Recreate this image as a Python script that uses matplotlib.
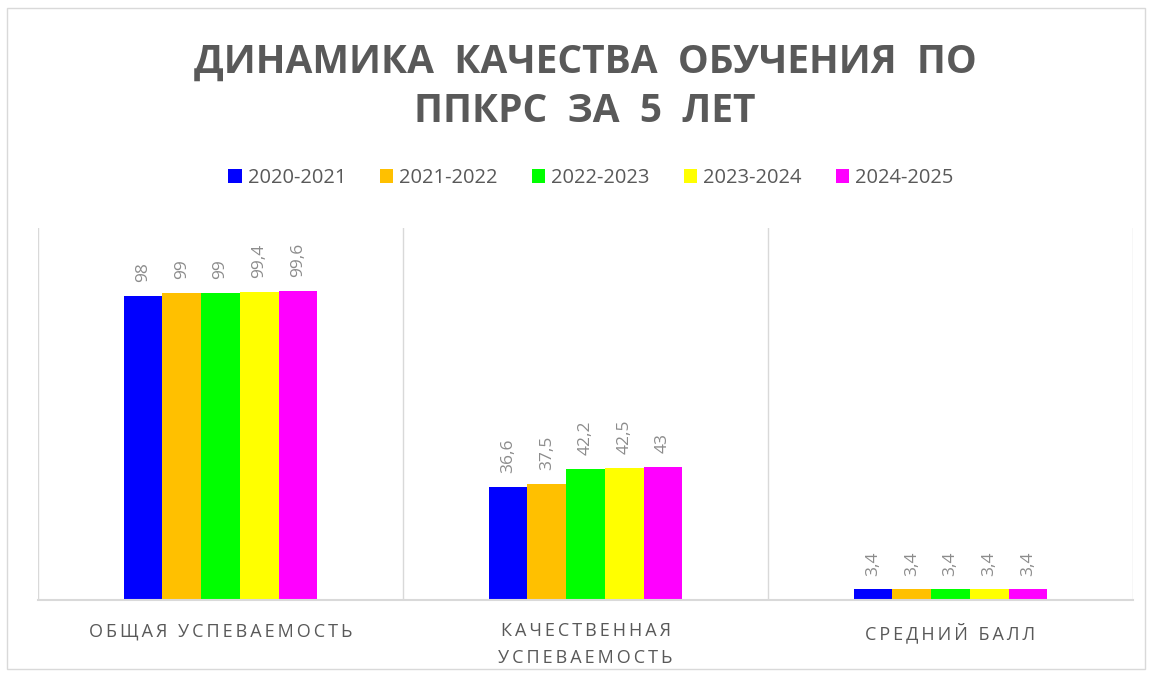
import matplotlib
matplotlib.use("Agg")
import matplotlib.pyplot as plt
import numpy as np
from matplotlib.patches import Rectangle

categories = ["ОБЩАЯ УСПЕВАЕМОСТЬ", "КАЧЕСТВЕННАЯ\nУСПЕВАЕМОСТЬ", "СРЕДНИЙ БАЛЛ"]
years = ["2020-2021", "2021-2022", "2022-2023", "2023-2024", "2024-2025"]
colors = ["#0000FF", "#FFC000", "#00FF00", "#FFFF00", "#FF00FF"]
values = [
    [98, 36.6, 3.4],
    [99, 37.5, 3.4],
    [99, 42.2, 3.4],
    [99.4, 42.5, 3.4],
    [99.6, 43, 3.4],
]

gray = "#595959"
plt.rcParams["font.family"] = ["Open Sans", "DejaVu Sans"]


def spaced(s, gap="\u2009"):
    # poor man's letter spacing
    return "\n".join(gap.join(line) for line in s.split("\n"))


fig = plt.figure(figsize=(11.52, 6.77), dpi=100)
fig.patches.append(Rectangle((0.006, 0.012), 0.988, 0.976, transform=fig.transFigure,
                             fill=False, edgecolor="#d9d9d9", linewidth=1))
ax = fig.add_axes([0.033, 0.1137, 0.9505, 0.5495])

x = np.arange(len(categories))
n = len(years)
bw = 0.53 / n
for i, (year, col) in enumerate(zip(years, colors)):
    pos = x - 0.53 / 2 + bw * (i + 0.5)
    bars = ax.bar(pos, values[i], width=bw, color=col, label=year)
    for b, v in zip(bars, values[i]):
        ax.text(b.get_x() + b.get_width() / 2, v + 4.5, f"{v:g}".replace(".", ","),
                rotation=90, ha="center", va="bottom", color="#8c8c8c", fontsize=12.5)

ax.set_xlim(-0.5, len(categories) - 0.5)
ax.set_ylim(0, 120)
ax.set_yticks([])
ax.set_xticks(x)
ax.set_xticklabels([spaced(c) for c in categories], color=gray, fontsize=13, linespacing=1.6)
ax.tick_params(axis="x", length=0, pad=16)
for b in np.arange(-0.5, len(categories), 1):
    ax.axvline(b, color="#d9d9d9", linewidth=1, zorder=0)
for s in ["top", "left", "right"]:
    ax.spines[s].set_visible(False)
ax.spines["bottom"].set_color("#d9d9d9")
ax.spines["bottom"].set_linewidth(1.5)

fig.text(0.508, 0.908, "ДИНАМИКА  КАЧЕСТВА  ОБУЧЕНИЯ  ПО", ha="center", va="center",
         fontsize=28, fontweight="bold", color=gray)
fig.text(0.508, 0.836, "ППКРС  ЗА  5  ЛЕТ", ha="center", va="center",
         fontsize=28, fontweight="bold", color=gray)

fig.legend(loc="center", bbox_to_anchor=(0.513, 0.737), ncol=5, frameon=False,
           fontsize=14.5, handlelength=0.65, handleheight=0.65, handletextpad=0.3,
           columnspacing=1.7, labelcolor=gray)

fig.savefig("out.png", dpi=100)
